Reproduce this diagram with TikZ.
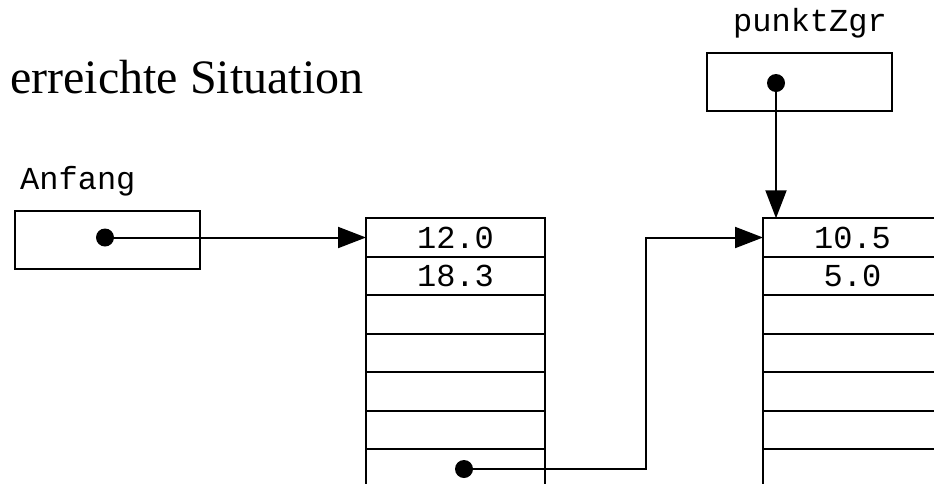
\documentclass[tikz,border=0pt]{standalone}
\usepackage{fontspec}
\setmainfont{Liberation Serif}
\newfontfamily\monofont{Liberation Mono}
\usetikzlibrary{arrows.meta,positioning}
\tikzset{
  arr/.style={line width=2pt, -{Triangle[length=28pt,width=21pt]}},
  ptrbox/.style={draw, line width=2pt, minimum width=185pt, minimum height=58pt, inner sep=0pt},
  cell/.style={draw, line width=2pt, minimum width=179pt, minimum height=38.5pt, inner sep=0pt, outer sep=0pt, font=\monofont\fontsize{32}{36}\selectfont},
  dot/.style={circle, fill, inner sep=0pt, minimum size=18pt},
  lbl/.style={inner sep=0pt, font=\monofont\fontsize{32}{36}\selectfont},
}
\begin{document}
\begin{tikzpicture}[x=1pt,y=-1pt]
\useasboundingbox (0,0) rectangle (934,483);
\clip (0,0) rectangle (934,483);
% title
\node[anchor=base west, inner sep=0pt, font=\fontsize{48}{56}\selectfont] (title) at (10,93) {erreichte Situation};
% Anfang pointer
\node[lbl, anchor=base west] (anfanglbl) at (20,189) {Anfang};
\node[ptrbox] (anfang) at (107.5,240) {};
\node[dot] (ad) at (105,237.5) {};
% punktZgr pointer
\node[lbl, anchor=base] (pzlbl) at (810,31) {punktZgr};
\node[ptrbox] (pz) at (799.5,81.5) {};
\node[dot] (pzd) at (776,83) {};
% left array
\node[cell] (L1) at (455.5,237.5) {12.0};
\node[cell, below=0pt of L1] (L2) {18.3};
\node[cell, below=0pt of L2] (L3) {};
\node[cell, below=0pt of L3] (L4) {};
\node[cell, below=0pt of L4] (L5) {};
\node[cell, below=0pt of L5] (L6) {};
\node[cell, below=0pt of L6] (L7) {};
\node[dot] (ld) at (464,469) {};
% right array
\node[cell] (R1) at (852.5,237.5) {10.5};
\node[cell, below=0pt of R1] (R2) {5.0};
\node[cell, below=0pt of R2] (R3) {};
\node[cell, below=0pt of R3] (R4) {};
\node[cell, below=0pt of R4] (R5) {};
\node[cell, below=0pt of R5] (R6) {};
\node[cell, below=0pt of R6] (R7) {};
% connectors
\coordinate (bend) at (645.5,469);
\draw[arr] (ad.center) -- (L1.west);
\draw[arr] (ld.center) -- (bend) |- (R1.west);
\draw[arr] (pzd.center) -- (pzd |- R1.north);
\end{tikzpicture}
\end{document}
